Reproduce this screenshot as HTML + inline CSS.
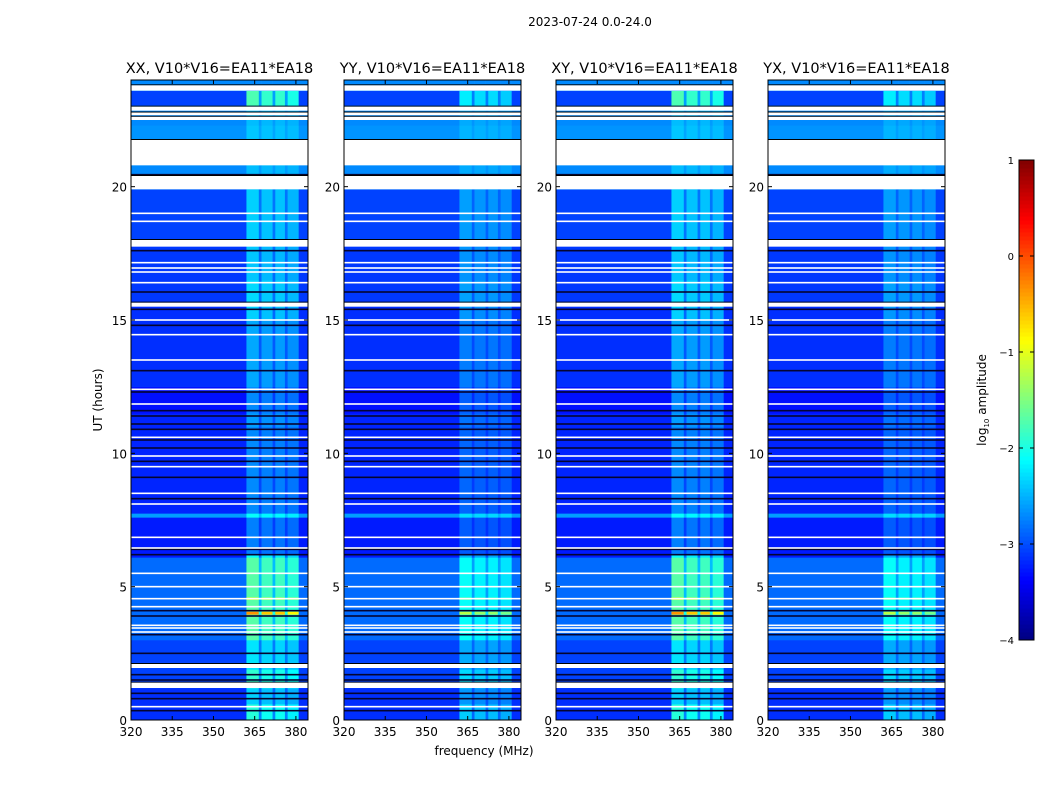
<!DOCTYPE html>
<html><head><meta charset="utf-8"><style>
body{margin:0;background:#fff;}
svg{display:block;font-family:"DejaVu Sans","Liberation Sans",sans-serif;}
</style></head><body>
<svg id="fig" width="1050" height="800" viewBox="0 0 1050 800">
<rect width="1050" height="800" fill="#fff"/>
<text x="590" y="26" font-size="12" text-anchor="middle">2023-07-24 0.0-24.0</text>
<text x="484" y="755" font-size="12" text-anchor="middle">frequency (MHz)</text>
<text transform="translate(102,400) rotate(-90)" font-size="12" text-anchor="middle">UT (hours)</text>
<g id="panels"></g>
<g id="cbar"></g>
</svg>
<script>
// ---- data ----
const panelTitles = ["XX, V10*V16=EA11*EA18","YY, V10*V16=EA11*EA18","XY, V10*V16=EA11*EA18","YX, V10*V16=EA11*EA18"];
const panelBandScale = [1.0, 0.65, 1.0, 0.65];
const freqEdges = [320,362,366.5,367.5,371.5,372.5,376,377,381,384.4];
const freqFactor = [0,1.0,0.35,0.9,0.35,0.9,0.35,0.8,0];
const bgSegs = [[0,1.2,-3.15],[1.2,2.0,-3.05],[2.0,2.15,-2.7],[2.15,3.0,-3.05],[3.0,6.1,-2.85],[6.1,7.6,-3.25],[7.6,7.75,-2.6],[7.75,11.5,-3.2],[11.5,12.5,-3.3],[12.5,15.5,-3.15],[15.5,18,-3.1],[18,19.9,-3.05],[19.9,20.8,-2.7],[20.8,22.3,-2.65],[22.3,23.05,-2.7],[23.05,23.6,-3.05],[23.6,24,-2.7]];
const bandSegs = [[0,0.6,1.2],[0.6,1.2,0.8],[1.2,1.9,1.15],[1.9,3.0,0.8],[3.0,6.2,1.15],[6.2,11,0.5],[11,12,0.6],[12,15,0.6],[15,16.5,0.8],[16.5,19.9,0.7],[19.9,23.05,0.25],[23.05,23.6,1.3]];
const hotSegs = [[3.95,4.06,2.5],[4.5,4.6,1.7]];
const flagSegs = [[23.6,23.8],[22.5,22.62],[22.68,22.78],[22.85,23.0],[20.8,21.75],[19.9,20.4],[17.75,18.0],[15.5,15.65],[1.95,2.1],[1.2,1.4]];
const whiteLines = [19.0,18.7,17.15,16.95,16.8,16.4,15.0,14.45,13.5,12.4,11.85,10.6,9.9,9.5,8.5,8.1,6.85,6.45,5.5,5.0,4.55,4.25,3.55,3.45,3.3,0.5];
const darkLines = [20.45,17.6,16.05,15.4,14.8,13.1,12.3,11.6,11.4,11.1,10.9,10.5,10.2,9.7,9.1,8.3,6.4,6.2,4.1,3.9,3.2,2.5,1.7,1.5,1.0,0.8,0.35];
const xTicks = [320,335,350,365,380];
const yTicks = [0,5,10,15,20];
const cbarTicks = [1,0,-1,-2,-3,-4];
// ---- layout ----
const panelX = [131,344,556,768], PW = 177, PT = 80, PB = 720;
const fMin = 320, fMax = 384.4, tMin = 0, tMax = 24, vMin = -4, vMax = 1;
const NS = "http://www.w3.org/2000/svg";
function jet(v){
  let t = Math.max(0, Math.min(1, (v - vMin)/(vMax - vMin)));
  const f = x => Math.max(0, Math.min(1, x));
  const r = f(1.5 - Math.abs(4*t - 3)), g = f(1.5 - Math.abs(4*t - 2)), b = f(1.5 - Math.abs(4*t - 1));
  return `rgb(${Math.round(r*255)},${Math.round(g*255)},${Math.round(b*255)})`;
}
function mk(tag, attrs, parent){const e=document.createElementNS(NS,tag);for(const k in attrs)e.setAttribute(k,attrs[k]);parent.appendChild(e);return e;}
function bandAt(t){let b=0;for(const s of bandSegs){if(t>=s[0]&&t<s[1])b=s[2];}return b;}
const panels = document.getElementById('panels');
panelTitles.forEach((title, p) => {
  const x0 = panelX[p];
  const xs = f => x0 + (f - fMin)/(fMax - fMin)*PW;
  const ys = t => PB - (t - tMin)/(tMax - tMin)*(PB - PT);
  const g = mk('g', {}, panels);
  
  
  bgSegs.forEach(s => {
    const cuts = [s[0], s[1]];
    bandSegs.forEach(b => { [b[0], b[1]].forEach(c => { if (c > s[0] && c < s[1]) cuts.push(c); }); });
    cuts.sort((a,b)=>a-b);
    for (let i = 0; i < cuts.length - 1; i++) {
      const t0 = cuts[i], t1 = cuts[i+1], bb = bandAt((t0+t1)/2);
      for (let c = 0; c < freqFactor.length; c++) {
        const v = s[2] + bb*freqFactor[c]*panelBandScale[p];
        const r = mk('rect', {x: xs(freqEdges[c]), y: ys(t1), width: xs(freqEdges[c+1]) - xs(freqEdges[c]) + 0.3, height: ys(t0) - ys(t1) + 0.3, fill: jet(v)}, g);
        
        
      }
    }
  });
  hotSegs.forEach(s => {
    const bg = bgSegs.find(b => s[0] >= b[0] && s[0] < b[1]);
    for (let c = 1; c < freqFactor.length - 1; c++) {
      const v = bg[2] + s[2]*freqFactor[c]*panelBandScale[p];
      const r = mk('rect', {x: xs(freqEdges[c]), y: ys(s[1]), width: xs(freqEdges[c+1]) - xs(freqEdges[c]), height: ys(s[0]) - ys(s[1]), fill: jet(v)}, g);
      
      
    }
  });
  darkLines.forEach(t => {
    const r = mk('rect', {x: x0, y: ys(t) - 0.8, width: PW, height: 1.6, fill: '#050530'}, g);
    
    
  });
  whiteLines.forEach(t => {
    const r = mk('rect', {x: x0, y: ys(t) - 0.8, width: PW, height: 1.6, fill: '#fff'}, g);
    
    
  });
  flagSegs.forEach(s => {
    mk('rect', {x: x0, y: ys(s[1]) - 1, width: PW, height: 1, fill: '#000'}, g);
    const r = mk('rect', {x: x0, y: ys(s[1]), width: PW, height: ys(s[0]) - ys(s[1]), fill: '#fff'}, g);
    
    
  });
  const fr = mk('rect', {x: x0, y: PT, width: PW, height: PB - PT, fill: 'none', stroke: '#000', 'stroke-width': 1}, g);
  
  
  const tt = mk('text', {x: x0 + PW/2, y: 73, 'font-size': 14.5, 'text-anchor': 'middle'}, g);
  tt.textContent = title;
  
  
  xTicks.forEach(f => {
    mk('line', {x1: xs(f), x2: xs(f), y1: PB, y2: PB - 4, stroke: '#000'}, g);
    mk('line', {x1: xs(f), x2: xs(f), y1: PT, y2: PT + 4, stroke: '#000'}, g);
    const l = mk('text', {x: xs(f), y: PB + 16, 'font-size': 12, 'text-anchor': 'middle'}, g);
    l.textContent = f;
    
    
  });
  yTicks.forEach(t => {
    mk('line', {x1: x0, x2: x0 + 4, y1: ys(t), y2: ys(t), stroke: '#000'}, g);
    mk('line', {x1: x0 + PW, x2: x0 + PW - 4, y1: ys(t), y2: ys(t), stroke: '#000'}, g);
    const l = mk('text', {x: x0 - 4, y: ys(t) + 5, 'font-size': 12, 'text-anchor': 'end'}, g);
    l.textContent = t;
    
    
  });
});
// colorbar
const cb = document.getElementById('cbar');
const CX = 1019, CW = 15, CT = 160, CB = 640;
const cys = v => CB - (v - vMin)/(vMax - vMin)*(CB - CT);
for (let i = 0; i < 120; i++) {
  const v0 = vMin + i*(vMax - vMin)/120, v1 = vMin + (i+1)*(vMax - vMin)/120;
  mk('rect', {x: CX, y: cys(v1), width: CW, height: cys(v0) - cys(v1) + 0.5, fill: jet((v0+v1)/2)}, cb);
}
mk('rect', {x: CX, y: CT, width: CW, height: CB - CT, fill: 'none', stroke: '#000'}, cb);
cbarTicks.forEach(v => {
  mk('line', {x1: CX, x2: CX + 4, y1: cys(v), y2: cys(v), stroke: '#000'}, cb);
  mk('line', {x1: CX + CW, x2: CX + CW - 4, y1: cys(v), y2: cys(v), stroke: '#000'}, cb);
  const l = mk('text', {x: CX - 5, y: cys(v) + 4, 'font-size': 10, 'text-anchor': 'end'}, cb);
  l.textContent = v < 0 ? '\u2212' + (-v) : v;
  
  
});
const cl = mk('text', {transform: 'translate(986,400) rotate(-90)', 'font-size': 12, 'text-anchor': 'middle'}, cb);
cl.innerHTML = 'log<tspan font-size="7" dy="3">10</tspan><tspan dy="-3"> amplitude</tspan>';


</script>
</body></html>
